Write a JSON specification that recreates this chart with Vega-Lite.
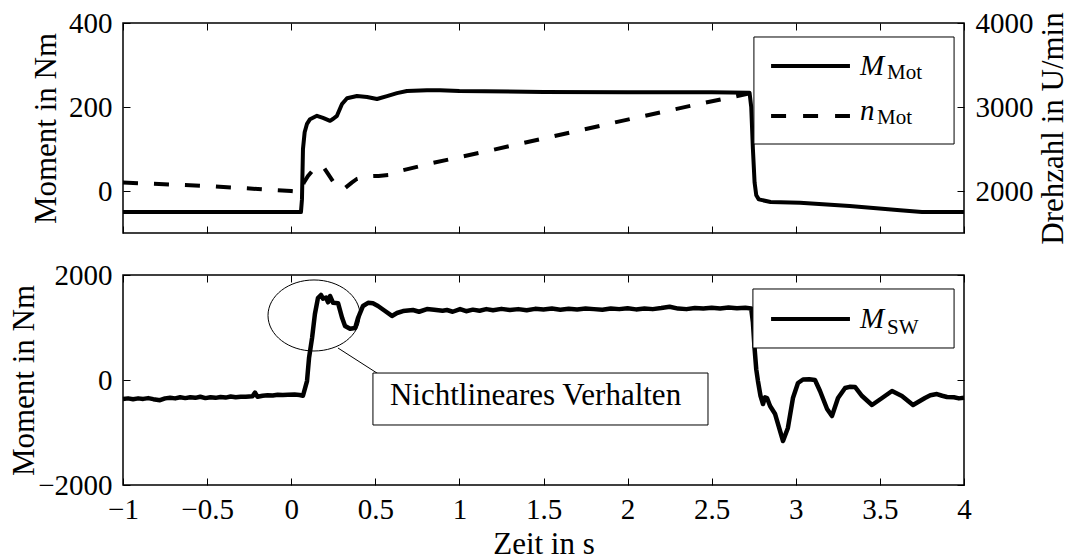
{
  "$schema": "https://vega.github.io/schema/vega-lite/v6.json",
  "padding": {"left": 7, "top": 8, "right": 0, "bottom": 0},
  "background": "white",
  "config": {
    "font": "Liberation Serif",
    "view": {"stroke": "black", "strokeWidth": 1.5},
    "axis": {
      "domain": false, "grid": false, "ticks": true, "tickSize": -7, "tickColor": "black", "tickWidth": 1,
      "labelFont": "Liberation Serif", "labelFontSize": 29, "labelColor": "black", "labelPadding": 18,
      "labelFlush": false, "labelOverlap": false,
      "titleFont": "Liberation Serif", "titleFontSize": 31, "titleFontWeight": "normal", "titleColor": "black"
    }
  },
  "datasets": {
    "mot": [
      {"t": -1, "M": -50}, {"t": 0.058, "M": -50}, {"t": 0.064, "M": -20}, {"t": 0.07, "M": 100}, {"t": 0.08, "M": 140},
      {"t": 0.094, "M": 160}, {"t": 0.112, "M": 171}, {"t": 0.153, "M": 179}, {"t": 0.189, "M": 174}, {"t": 0.231, "M": 167},
      {"t": 0.25, "M": 172}, {"t": 0.272, "M": 179}, {"t": 0.302, "M": 207}, {"t": 0.332, "M": 221}, {"t": 0.391, "M": 226},
      {"t": 0.451, "M": 224}, {"t": 0.51, "M": 219}, {"t": 0.57, "M": 226}, {"t": 0.629, "M": 233}, {"t": 0.688, "M": 238},
      {"t": 0.807, "M": 240}, {"t": 0.885, "M": 240}, {"t": 1.0, "M": 238}, {"t": 1.5, "M": 236}, {"t": 2.0, "M": 235},
      {"t": 2.5, "M": 235}, {"t": 2.725, "M": 234}, {"t": 2.735, "M": 200}, {"t": 2.745, "M": 100}, {"t": 2.755, "M": 20},
      {"t": 2.765, "M": -10}, {"t": 2.78, "M": -20}, {"t": 2.85, "M": -26}, {"t": 3.025, "M": -28}, {"t": 3.32, "M": -36},
      {"t": 3.62, "M": -46}, {"t": 3.75, "M": -50}, {"t": 4.0, "M": -50}
    ],
    "nmot": [
      {"t": -1, "n": 2100}, {"t": -0.5, "n": 2060}, {"t": 0.0, "n": 2000}, {"t": 0.055, "n": 1990}, {"t": 0.075, "n": 2100},
      {"t": 0.1, "n": 2180}, {"t": 0.13, "n": 2250}, {"t": 0.16, "n": 2295}, {"t": 0.19, "n": 2290}, {"t": 0.22, "n": 2200},
      {"t": 0.25, "n": 2110}, {"t": 0.29, "n": 2030}, {"t": 0.32, "n": 2035}, {"t": 0.36, "n": 2100}, {"t": 0.39, "n": 2143},
      {"t": 0.45, "n": 2175}, {"t": 0.52, "n": 2180}, {"t": 0.58, "n": 2190}, {"t": 0.65, "n": 2240}, {"t": 0.84, "n": 2333},
      {"t": 1.2, "n": 2490}, {"t": 1.6, "n": 2670}, {"t": 2.0, "n": 2850}, {"t": 2.4, "n": 3025}, {"t": 2.72, "n": 3160}
    ],
    "sw": [
      {"t": -1.0, "M": -360}, {"t": -0.97, "M": -350}, {"t": -0.94, "M": -365}, {"t": -0.91, "M": -350}, {"t": -0.88, "M": -360},
      {"t": -0.85, "M": -345}, {"t": -0.82, "M": -365}, {"t": -0.78, "M": -385}, {"t": -0.75, "M": -350}, {"t": -0.72, "M": -340},
      {"t": -0.69, "M": -350}, {"t": -0.66, "M": -330}, {"t": -0.63, "M": -345}, {"t": -0.6, "M": -330}, {"t": -0.57, "M": -340},
      {"t": -0.54, "M": -320}, {"t": -0.51, "M": -345}, {"t": -0.48, "M": -330}, {"t": -0.45, "M": -340}, {"t": -0.42, "M": -325},
      {"t": -0.39, "M": -335}, {"t": -0.36, "M": -315}, {"t": -0.33, "M": -330}, {"t": -0.3, "M": -320}, {"t": -0.27, "M": -320},
      {"t": -0.23, "M": -310}, {"t": -0.215, "M": -240}, {"t": -0.2, "M": -320}, {"t": -0.17, "M": -300}, {"t": -0.14, "M": -290},
      {"t": -0.11, "M": -295}, {"t": -0.08, "M": -280}, {"t": -0.05, "M": -285}, {"t": -0.02, "M": -280}, {"t": 0.02, "M": -275},
      {"t": 0.05, "M": -285}, {"t": 0.07, "M": -300}, {"t": 0.094, "M": -20}, {"t": 0.106, "M": 420}, {"t": 0.124, "M": 800},
      {"t": 0.141, "M": 1257}, {"t": 0.159, "M": 1560}, {"t": 0.177, "M": 1620}, {"t": 0.189, "M": 1550}, {"t": 0.207, "M": 1570},
      {"t": 0.219, "M": 1480}, {"t": 0.231, "M": 1600}, {"t": 0.249, "M": 1470}, {"t": 0.279, "M": 1460}, {"t": 0.303, "M": 1180},
      {"t": 0.32, "M": 1030}, {"t": 0.35, "M": 975}, {"t": 0.38, "M": 990}, {"t": 0.397, "M": 1180}, {"t": 0.427, "M": 1410},
      {"t": 0.457, "M": 1470}, {"t": 0.486, "M": 1460}, {"t": 0.516, "M": 1410}, {"t": 0.558, "M": 1314}, {"t": 0.599, "M": 1220},
      {"t": 0.629, "M": 1276}, {"t": 0.665, "M": 1314}, {"t": 0.724, "M": 1333}, {"t": 0.76, "M": 1300}, {"t": 0.807, "M": 1352},
      {"t": 0.85, "M": 1340}, {"t": 0.9, "M": 1320}, {"t": 0.926, "M": 1333}, {"t": 0.96, "M": 1300}, {"t": 1.004, "M": 1352},
      {"t": 1.04, "M": 1310}, {"t": 1.08, "M": 1340}, {"t": 1.12, "M": 1320}, {"t": 1.16, "M": 1350}, {"t": 1.2, "M": 1330},
      {"t": 1.25, "M": 1355}, {"t": 1.3, "M": 1335}, {"t": 1.35, "M": 1350}, {"t": 1.4, "M": 1330}, {"t": 1.45, "M": 1355},
      {"t": 1.5, "M": 1345}, {"t": 1.55, "M": 1360}, {"t": 1.6, "M": 1340}, {"t": 1.65, "M": 1355}, {"t": 1.7, "M": 1345},
      {"t": 1.75, "M": 1360}, {"t": 1.8, "M": 1350}, {"t": 1.85, "M": 1340}, {"t": 1.9, "M": 1360}, {"t": 1.95, "M": 1350},
      {"t": 2.0, "M": 1365}, {"t": 2.05, "M": 1345}, {"t": 2.1, "M": 1360}, {"t": 2.15, "M": 1350}, {"t": 2.2, "M": 1370},
      {"t": 2.25, "M": 1395}, {"t": 2.3, "M": 1360}, {"t": 2.35, "M": 1350}, {"t": 2.4, "M": 1370}, {"t": 2.45, "M": 1360},
      {"t": 2.5, "M": 1375}, {"t": 2.55, "M": 1360}, {"t": 2.6, "M": 1380}, {"t": 2.65, "M": 1365}, {"t": 2.7, "M": 1375},
      {"t": 2.735, "M": 1360}, {"t": 2.745, "M": 1100}, {"t": 2.755, "M": 600}, {"t": 2.765, "M": 200}, {"t": 2.775, "M": -20},
      {"t": 2.79, "M": -300}, {"t": 2.805, "M": -457}, {"t": 2.817, "M": -330}, {"t": 2.829, "M": -343}, {"t": 2.847, "M": -495},
      {"t": 2.877, "M": -648}, {"t": 2.894, "M": -838}, {"t": 2.924, "M": -1162}, {"t": 2.953, "M": -914}, {"t": 2.983, "M": -343},
      {"t": 3.013, "M": -57}, {"t": 3.043, "M": 10}, {"t": 3.08, "M": 15}, {"t": 3.114, "M": 0}, {"t": 3.144, "M": -210},
      {"t": 3.186, "M": -552}, {"t": 3.215, "M": -686}, {"t": 3.251, "M": -343}, {"t": 3.293, "M": -152}, {"t": 3.32, "M": -130},
      {"t": 3.352, "M": -133}, {"t": 3.394, "M": -305}, {"t": 3.453, "M": -476}, {"t": 3.513, "M": -343}, {"t": 3.572, "M": -210},
      {"t": 3.631, "M": -305}, {"t": 3.697, "M": -476}, {"t": 3.768, "M": -343}, {"t": 3.8, "M": -290}, {"t": 3.839, "M": -267},
      {"t": 3.87, "M": -300}, {"t": 3.899, "M": -324}, {"t": 3.94, "M": -330}, {"t": 3.97, "M": -350}, {"t": 4.0, "M": -340}
    ],
    "one": [{}]
  },
  "spacing": 42,
  "bounds": "flush",
  "vconcat": [
    {
      "width": 841, "height": 210,
      "resolve": {"scale": {"y": "independent"}, "axis": {"x": "independent", "y": "independent"}},
      "layer": [
        {
          "data": {"name": "mot"},
          "mark": {"type": "line", "color": "black", "strokeWidth": 4, "strokeJoin": "round"},
          "encoding": {
            "x": {"field": "t", "type": "quantitative", "scale": {"domain": [-1, 4], "nice": false, "zero": false},
                  "axis": {"orient": "bottom", "labels": false, "title": null, "values": [-1, -0.5, 0, 0.5, 1, 1.5, 2, 2.5, 3, 3.5, 4]}},
            "y": {"field": "M", "type": "quantitative", "scale": {"domain": [-100, 400], "nice": false, "zero": false},
                  "axis": {"orient": "left", "values": [0, 200, 400], "format": "d", "title": "Moment in Nm", "titleAngle": 270,
                           "titleX": -68, "titleY": 105, "titleBaseline": "alphabetic", "titleAlign": "center"}}
          }
        },
        {
          "data": {"name": "nmot"},
          "mark": {"type": "line", "color": "black", "strokeWidth": 4, "strokeDash": [15, 16], "strokeCap": "butt"},
          "encoding": {
            "x": {"field": "t", "type": "quantitative", "scale": {"domain": [-1, 4], "nice": false, "zero": false},
                  "axis": {"orient": "top", "labels": false, "title": null, "values": [-1, -0.5, 0, 0.5, 1, 1.5, 2, 2.5, 3, 3.5, 4]}},
            "y": {"field": "n", "type": "quantitative", "scale": {"domain": [1500, 4000], "nice": false, "zero": false},
                  "axis": {"orient": "right", "values": [2000, 3000, 4000], "format": "d", "title": "Drehzahl in U/min", "titleAngle": 270,
                           "titleX": 98, "titleY": 105, "titleBaseline": "alphabetic", "titleAlign": "center"}}
          }
        },
        {
          "data": {"name": "one"},
          "mark": {"type": "rect", "fill": "white", "stroke": "black", "strokeWidth": 1},
          "encoding": {
            "x": {"datum": 2.751, "type": "quantitative", "scale": {"domain": [-1, 4], "nice": false}, "axis": null},
            "x2": {"datum": 3.941},
            "y": {"datum": 366.7, "type": "quantitative", "scale": {"domain": [-100, 400], "nice": false}, "axis": null},
            "y2": {"datum": 111.9}
          }
        },
        {
          "data": {"name": "one"},
          "mark": {"type": "rule", "color": "black", "strokeWidth": 4},
          "encoding": {
            "x": {"datum": 2.853, "type": "quantitative", "scale": {"domain": [-1, 4], "nice": false}, "axis": null},
            "x2": {"datum": 3.322},
            "y": {"datum": 297.6, "type": "quantitative", "scale": {"domain": [-100, 400], "nice": false}, "axis": null}
          }
        },
        {
          "data": {"name": "one"},
          "mark": {"type": "rule", "color": "black", "strokeWidth": 4, "strokeDash": [15, 17], "strokeCap": "butt"},
          "encoding": {
            "x": {"datum": 2.853, "type": "quantitative", "scale": {"domain": [-1, 4], "nice": false}, "axis": null},
            "x2": {"datum": 3.322},
            "y": {"datum": 178.6, "type": "quantitative", "scale": {"domain": [-100, 400], "nice": false}, "axis": null}
          }
        },
        {
          "data": {"name": "one"},
          "mark": {"type": "text", "text": "M", "font": "Liberation Serif", "fontStyle": "italic", "fontSize": 29, "align": "left", "baseline": "alphabetic", "color": "black"},
          "encoding": {
            "x": {"datum": 3.382, "type": "quantitative", "scale": {"domain": [-1, 4], "nice": false}, "axis": null},
            "y": {"datum": 276.2, "type": "quantitative", "scale": {"domain": [-100, 400], "nice": false}, "axis": null}
          }
        },
        {
          "data": {"name": "one"},
          "mark": {"type": "text", "text": "Mot", "font": "Liberation Serif", "fontSize": 21, "align": "left", "baseline": "alphabetic", "color": "black"},
          "encoding": {
            "x": {"datum": 3.542, "type": "quantitative", "scale": {"domain": [-1, 4], "nice": false}, "axis": null},
            "y": {"datum": 266.7, "type": "quantitative", "scale": {"domain": [-100, 400], "nice": false}, "axis": null}
          }
        },
        {
          "data": {"name": "one"},
          "mark": {"type": "text", "text": "n", "font": "Liberation Serif", "fontStyle": "italic", "fontSize": 29, "align": "left", "baseline": "alphabetic", "color": "black"},
          "encoding": {
            "x": {"datum": 3.382, "type": "quantitative", "scale": {"domain": [-1, 4], "nice": false}, "axis": null},
            "y": {"datum": 169, "type": "quantitative", "scale": {"domain": [-100, 400], "nice": false}, "axis": null}
          }
        },
        {
          "data": {"name": "one"},
          "mark": {"type": "text", "text": "Mot", "font": "Liberation Serif", "fontSize": 21, "align": "left", "baseline": "alphabetic", "color": "black"},
          "encoding": {
            "x": {"datum": 3.483, "type": "quantitative", "scale": {"domain": [-1, 4], "nice": false}, "axis": null},
            "y": {"datum": 159.5, "type": "quantitative", "scale": {"domain": [-100, 400], "nice": false}, "axis": null}
          }
        }
      ]
    },
    {
      "width": 841, "height": 210,
      "resolve": {"axis": {"x": "independent", "y": "independent"}},
      "layer": [
        {
          "data": {"name": "sw"},
          "mark": {"type": "line", "color": "black", "strokeWidth": 4.5, "strokeJoin": "round"},
          "encoding": {
            "x": {"field": "t", "type": "quantitative", "scale": {"domain": [-1, 4], "nice": false, "zero": false},
                  "axis": {"orient": "bottom", "values": [-1, -0.5, 0, 0.5, 1, 1.5, 2, 2.5, 3, 3.5, 4], "format": "~g", "labelPadding": 17,
                           "title": "Zeit in s", "titleX": 420.5, "titleY": 68, "titleBaseline": "alphabetic", "titleAlign": "center"}},
            "y": {"field": "M", "type": "quantitative", "scale": {"domain": [-2000, 2000], "nice": false, "zero": false},
                  "axis": {"orient": "left", "values": [-2000, 0, 2000], "format": "d", "title": "Moment in Nm", "titleAngle": 270,
                           "titleX": -90, "titleY": 105, "titleBaseline": "alphabetic", "titleAlign": "center"}}
          }
        },
        {
          "data": {"name": "one"},
          "mark": {"type": "point", "shape": "M -1 0 C -1 -0.4264 -0.5523 -0.772 0 -0.772 C 0.5523 -0.772 1 -0.4264 1 0 C 1 0.4264 0.5523 0.772 0 0.772 C -0.5523 0.772 -1 0.4264 -1 0 Z",
                   "size": 8464, "filled": false, "stroke": "black", "strokeWidth": 1, "opacity": 1},
          "encoding": {
            "x": {"datum": 0.1356, "type": "quantitative", "scale": {"domain": [-1, 4], "nice": false},
                  "axis": {"orient": "top", "labels": false, "title": null, "values": [-1, -0.5, 0, 0.5, 1, 1.5, 2, 2.5, 3, 3.5, 4]}},
            "y": {"datum": 1229, "type": "quantitative", "scale": {"domain": [-2000, 2000], "nice": false},
                  "axis": {"orient": "right", "labels": false, "title": null, "values": [-2000, 0, 2000]}}
          }
        },
        {
          "data": {"name": "one"},
          "mark": {"type": "rule", "color": "black", "strokeWidth": 1},
          "encoding": {
            "x": {"datum": 0.278, "type": "quantitative", "scale": {"domain": [-1, 4], "nice": false}, "axis": null},
            "x2": {"datum": 0.528},
            "y": {"datum": 609.6, "type": "quantitative", "scale": {"domain": [-2000, 2000], "nice": false}, "axis": null},
            "y2": {"datum": 95}
          }
        },
        {
          "data": {"name": "one"},
          "mark": {"type": "rect", "fill": "white", "stroke": "black", "strokeWidth": 1},
          "encoding": {
            "x": {"datum": 0.486, "type": "quantitative", "scale": {"domain": [-1, 4], "nice": false}, "axis": null},
            "x2": {"datum": 2.478},
            "y": {"datum": 133, "type": "quantitative", "scale": {"domain": [-2000, 2000], "nice": false}, "axis": null},
            "y2": {"datum": -857}
          }
        },
        {
          "data": {"name": "one"},
          "mark": {"type": "text", "text": "Nichtlineares Verhalten", "font": "Liberation Serif", "fontSize": 31, "align": "center", "baseline": "alphabetic", "color": "black"},
          "encoding": {
            "x": {"datum": 1.4525, "type": "quantitative", "scale": {"domain": [-1, 4], "nice": false}, "axis": null},
            "y": {"datum": -476, "type": "quantitative", "scale": {"domain": [-2000, 2000], "nice": false}, "axis": null}
          }
        },
        {
          "data": {"name": "one"},
          "mark": {"type": "rect", "fill": "white", "stroke": "black", "strokeWidth": 1},
          "encoding": {
            "x": {"datum": 2.745, "type": "quantitative", "scale": {"domain": [-1, 4], "nice": false}, "axis": null},
            "x2": {"datum": 3.941},
            "y": {"datum": 1733.6, "type": "quantitative", "scale": {"domain": [-2000, 2000], "nice": false}, "axis": null},
            "y2": {"datum": 609.6}
          }
        },
        {
          "data": {"name": "one"},
          "mark": {"type": "rule", "color": "black", "strokeWidth": 4},
          "encoding": {
            "x": {"datum": 2.853, "type": "quantitative", "scale": {"domain": [-1, 4], "nice": false}, "axis": null},
            "x2": {"datum": 3.322},
            "y": {"datum": 1162, "type": "quantitative", "scale": {"domain": [-2000, 2000], "nice": false}, "axis": null}
          }
        },
        {
          "data": {"name": "one"},
          "mark": {"type": "text", "text": "M", "font": "Liberation Serif", "fontStyle": "italic", "fontSize": 29, "align": "left", "baseline": "alphabetic", "color": "black"},
          "encoding": {
            "x": {"datum": 3.382, "type": "quantitative", "scale": {"domain": [-1, 4], "nice": false}, "axis": null},
            "y": {"datum": 990.6, "type": "quantitative", "scale": {"domain": [-2000, 2000], "nice": false}, "axis": null}
          }
        },
        {
          "data": {"name": "one"},
          "mark": {"type": "text", "text": "SW", "font": "Liberation Serif", "fontSize": 21, "align": "left", "baseline": "alphabetic", "color": "black"},
          "encoding": {
            "x": {"datum": 3.542, "type": "quantitative", "scale": {"domain": [-1, 4], "nice": false}, "axis": null},
            "y": {"datum": 876.3, "type": "quantitative", "scale": {"domain": [-2000, 2000], "nice": false}, "axis": null}
          }
        }
      ]
    }
  ]
}
